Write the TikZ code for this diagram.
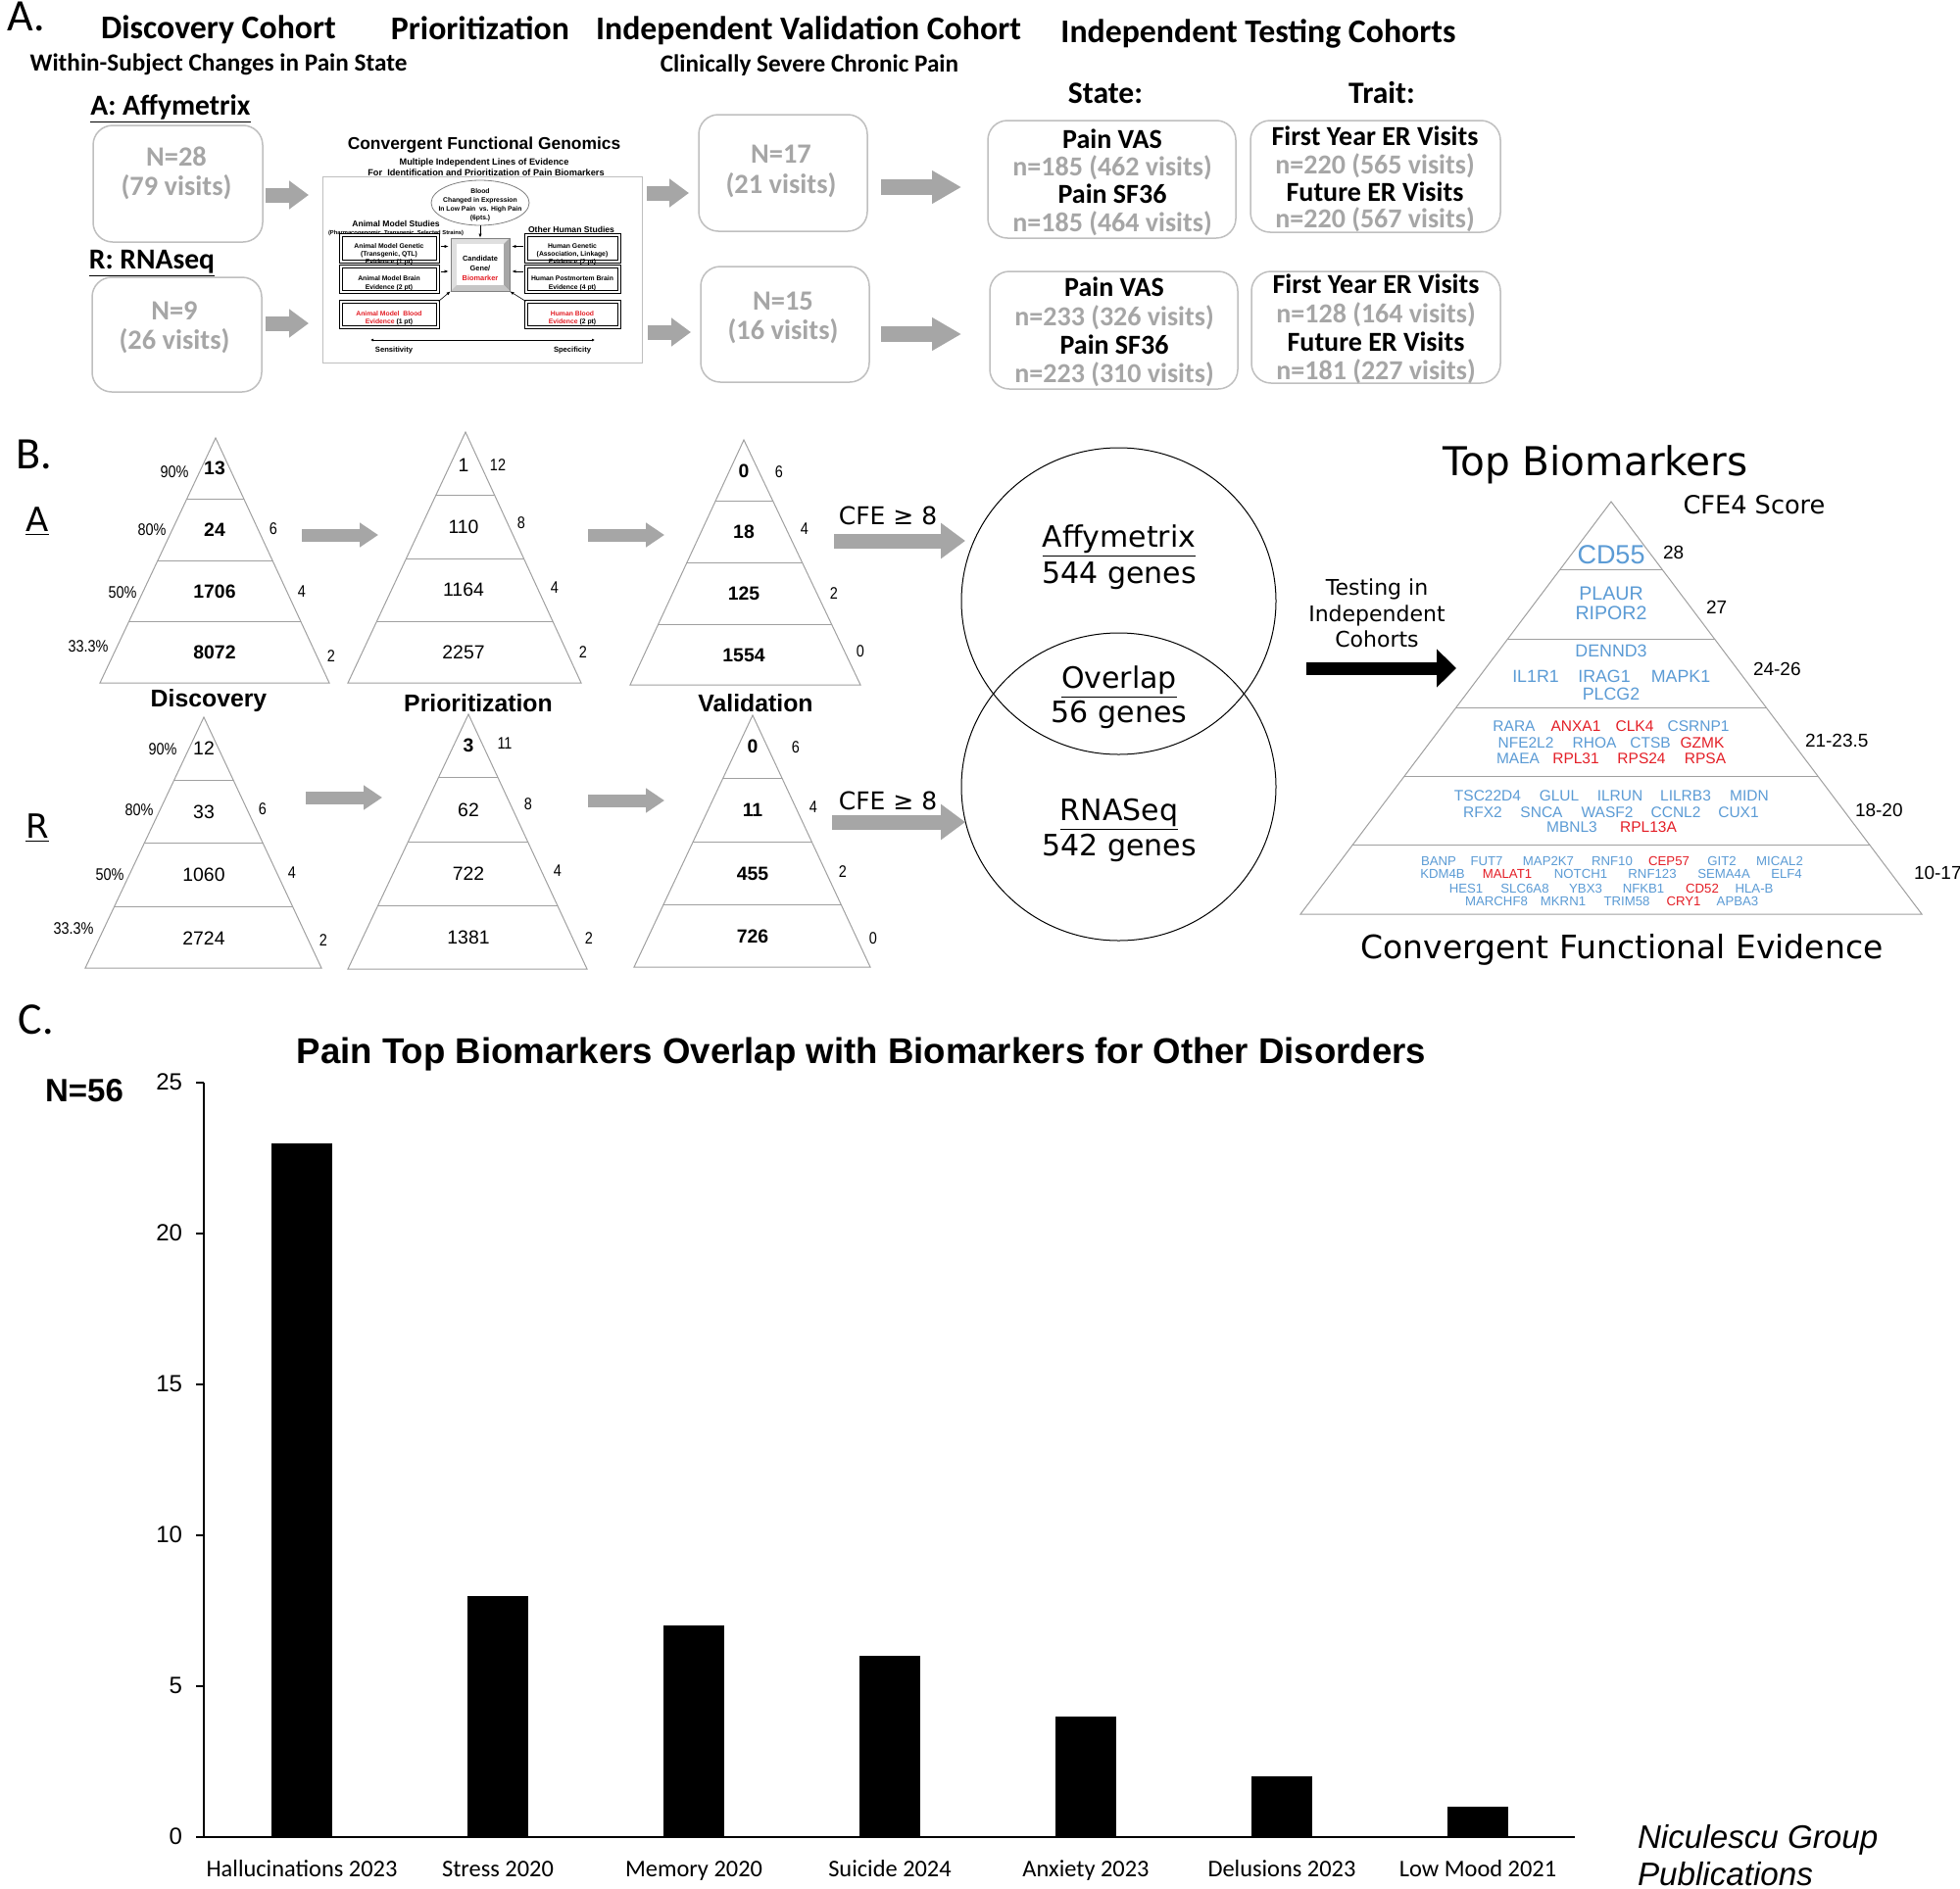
\documentclass[tikz,border=0pt]{standalone}
\usepackage{fontspec}
\setmainfont{Liberation Sans}
\newfontfamily\calib{Carlito}
\newfontfamily\dvs{DejaVu Sans}
\newfontfamily\narrowf[FakeStretch=0.85]{Liberation Sans}
\usetikzlibrary{arrows.meta,shapes.geometric,fit}
\newcommand\fz[1]{\fontsize{#1pt}{#1pt}\selectfont}
\definecolor{gtxt}{HTML}{A6A6A6}
\definecolor{gline}{HTML}{BFBFBF}
\definecolor{garr}{HTML}{A6A6A6}
\definecolor{gb}{HTML}{5B9BD5}
\definecolor{gr}{HTML}{E41E26}
\definecolor{pcol}{HTML}{A0A0A0}
\newcommand\drawpyr[6]{%
  \begin{scope}
    \clip (#1,#2) -- (#3,#5) -- (#4,#5) -- cycle;
    \foreach \yy in {#6} {\draw[pline] (0,\yy) -- (2000,\yy);}
  \end{scope}
  \draw[pline,line join=miter] (#1,#2) -- (#3,#5) -- (#4,#5) -- cycle;}
\begin{document}
\begin{tikzpicture}[x=0.5pt,y=-0.5pt,
  t/.style={inner sep=0pt,outer sep=0pt,anchor=mid},
  lbl/.style={t,font=\calib\fz{23},yshift=-3.5pt},
  head/.style={t,font=\calib\bfseries\fz{16.9},yshift=-2pt},
  subh/.style={t,font=\calib\bfseries\fz{12.6},yshift=-1pt},
  plat/.style={t,font=\calib\bfseries\fz{14.8},yshift=-2pt},
  ncount/.style={t,font=\calib\bfseries\fz{14.2},text=gtxt,yshift=-2pt},
  sthead/.style={t,font=\calib\bfseries\fz{15.8},yshift=-2pt},
  tb/.style={t,font=\calib\bfseries\fz{14},yshift=-2pt},
  tg/.style={tb,text=gtxt},
  gbox/.style={draw=gline,line width=0.75pt,rounded corners=10pt,inner sep=0pt},
  garrA/.style={draw=garr,line width=7.5pt,-{Triangle[length=10pt,width=14pt]}},
  garrB/.style={draw=garr,line width=8pt,-{Triangle[length=15pt,width=16pt]}},
  garrC/.style={draw=garr,line width=6.5pt,-{Triangle[length=9.5pt,width=12pt]}},
  garrD/.style={draw=garr,line width=7.5pt,-{Triangle[length=12.5pt,width=17.5pt]}},
  barr/.style={draw=black,line width=6.5pt,-{Triangle[length=10pt,width=19pt]}},
  cfgt/.style={t,font=\bfseries\fz{3.4}},
  sbox/.style={draw=black,line width=0.55pt,double=white,double distance=0.6pt,inner sep=0pt},
  sarr/.style={line width=0.3pt,-{Latex[length=2pt,width=1.6pt]}},
  pline/.style={draw=pcol,line width=0.5pt},
  pn/.style={t,font=\fz{9.7},yshift=-1pt},
  pnb/.style={t,font=\bfseries\fz{9.7},yshift=-1pt},
  pside/.style={t,font=\narrowf\fz{8.5}},
  plab/.style={t,font=\bfseries\fz{12.4},yshift=-1.3pt},
  cfe/.style={t,font=\dvs\fz{12.5},yshift=-2pt},
  rowlab/.style={t,font=\dvs\fz{17},yshift=-1pt},
  venn/.style={t,font=\dvs\fz{15},yshift=-2.5pt},
  dv/.style={t,font=\dvs\fz{11},yshift=-1.3pt},
  g1/.style={t,font=\fz{13.5},text=gb,yshift=-2.5pt},
  g2/.style={t,font=\fz{9.8},text=gb,yshift=-0.6pt},
  g3/.style={t,font=\fz{8.9},text=gb,yshift=-0.6pt},
  g4/.style={t,font=\fz{7.75},yshift=-0.5pt},
  g6/.style={t,font=\fz{6.6},yshift=-0.4pt},
  score/.style={t,anchor=mid west,font=\fz{9.5},yshift=-1.3pt},
  tick/.style={t,anchor=mid east,font=\fz{12},yshift=-1.3pt},
  cat/.style={t,font=\calib\fz{12.2}},
  nic/.style={t,anchor=mid west,font=\itshape\fz{16.6},yshift=-3.2pt},
]
\fill[white] (0,0) rectangle (2000,1927);
\useasboundingbox (0,0) rectangle (2000,1927);

%================ PANEL A ================
\node[lbl] (lA) at (27,19) {A.};
\node[head] (hDisc) at (223,30) {Discovery Cohort};
\node[subh] (hWithin) at (223,65) {Within-Subject Changes in Pain State};
\node[head] (hPrior) at (490,31) {Prioritization};
\node[head] (hVal) at (825,31) {Independent Validation Cohort};
\node[subh] (hClin) at (826,66) {Clinically Severe Chronic Pain};
\node[head] (hTest) at (1284,34) {Independent Testing Cohorts};
\node[sthead] (hState) at (1128,96) {State:};
\node[sthead] (hTrait) at (1410,96) {Trait:};

\node[plat] (pA) at (174,108) {\underline{A: Affymetrix}};
\node[plat] (pR) at (155,265) {\underline{R: RNAseq}};

\node[gbox,fit={(95,128)(268,247)}] (b28) {};
\node[ncount] (t28a) at (180,160) {N=28};
\node[ncount] (t28b) at (180,190) {(79 visits)};
\node[gbox,fit={(94,283)(267,400)}] (b9) {};
\node[ncount] (t9a) at (178,317) {N=9};
\node[ncount] (t9b) at (178,347) {(26 visits)};
\node[gbox,fit={(713,117)(885,236)}] (b17) {};
\node[ncount] (t17a) at (797,157) {N=17};
\node[ncount] (t17b) at (797,188) {(21 visits)};
\node[gbox,fit={(715,272)(887,390)}] (b15) {};
\node[ncount] (t15a) at (799,307) {N=15};
\node[ncount] (t15b) at (799,337) {(16 visits)};

\node[gbox,fit={(1008,123)(1261,243)}] (s1) {};
\node[tb] (s1a) at (1135,142) {Pain VAS};
\node[tg] (s1b) at (1135,170) {n=185 (462 visits)};
\node[tb] (s1c) at (1135,198) {Pain SF36};
\node[tg] (s1d) at (1135,227) {n=185 (464 visits)};
\node[gbox,fit={(1276,123)(1531,237)}] (tr1) {};
\node[tb] (tr1a) at (1403,139) {First Year ER Visits};
\node[tg] (tr1b) at (1403,168) {n=220 (565 visits)};
\node[tb] (tr1c) at (1403,196) {Future ER Visits};
\node[tg] (tr1d) at (1403,223) {n=220 (567 visits)};
\node[gbox,fit={(1010,277)(1263,397)}] (s2) {};
\node[tb] (s2a) at (1137,293) {Pain VAS};
\node[tg] (s2b) at (1137,323) {n=233 (326 visits)};
\node[tb] (s2c) at (1137,352) {Pain SF36};
\node[tg] (s2d) at (1137,381) {n=223 (310 visits)};
\node[gbox,fit={(1277,277)(1531,391)}] (tr2) {};
\node[tb] (tr2a) at (1404,290) {First Year ER Visits};
\node[tg] (tr2b) at (1404,320) {n=128 (164 visits)};
\node[tb] (tr2c) at (1404,349) {Future ER Visits};
\node[tg] (tr2d) at (1404,378) {n=181 (227 visits)};

% gray block arrows panel A
\coordinate (a1s) at (271,199); \coordinate (a1e) at (315,199);
\coordinate (a2s) at (660,197); \coordinate (a2e) at (703,197);
\coordinate (a3s) at (899,191); \coordinate (a3e) at (981,191);
\coordinate (a4s) at (271,330); \coordinate (a4e) at (315,330);
\coordinate (a5s) at (661,339); \coordinate (a5e) at (705,339);
\coordinate (a6s) at (899,341); \coordinate (a6e) at (981,341);
\draw[garrA] (a1s) -- (a1e);
\draw[garrA] (a2s) -- (a2e);
\draw[garrB] (a3s) -- (a3e);
\draw[garrA] (a4s) -- (a4e);
\draw[garrA] (a5s) -- (a5e);
\draw[garrB] (a6s) -- (a6e);

% ---- CFG inset ----
\node[t,font=\bfseries\fz{8.7}] (cfgT) at (494,147) {Convergent Functional Genomics};
\node[t,font=\bfseries\fz{4.6}] (cfgS1) at (494,163) {Multiple Independent Lines of Evidence};
\node[t,font=\bfseries\fz{4.6}] (cfgS2) at (496,174) {For\ \ Identification and Prioritization of Pain Biomarkers};
\node[draw=gline,line width=0.5pt,fit={(329,180)(655,370)},inner sep=0pt] (cfgbox) {};
\node[ellipse,draw=gray,line width=0.4pt,minimum width=50pt,minimum height=23pt,inner sep=0pt] (blood) at (490,207) {};
\node[cfgt] (bl1) at (490,192) {Blood};
\node[cfgt] (bl2) at (490,201) {Changed in Expression};
\node[cfgt] (bl3) at (490,210) {In Low Pain\ \ vs. High Pain};
\node[cfgt] (bl4) at (490,219) {(6pts.)};
\node[t,font=\bfseries\fz{4.3}] (ams) at (404,226) {Animal Model Studies};
\node[t,font=\bfseries\fz{2.9}] (amsp) at (404,234) {(Pharmacogenomic, Transgenic, Selected Strains)};
\node[t,font=\bfseries\fz{4.3}] (ohs) at (583,232) {Other Human Studies};
\node[sbox,fit={(348,240)(447,267)}] (lb1) {};
\node[sbox,fit={(348,272)(447,298)}] (lb2) {};
\node[sbox,fit={(348,308)(447,334)}] (lb3) {};
\node[sbox,fit={(537,240)(632,267)}] (rb1) {};
\node[sbox,fit={(537,272)(632,298)}] (rb2) {};
\node[sbox,fit={(537,308)(632,334)}] (rb3) {};
\node[cfgt] (lb1a) at (397,248) {Animal Model Genetic};
\node[cfgt] (lb1b) at (397,256) {(Transgenic, QTL)};
\node[cfgt] (lb1c) at (397,264) {Evidence (1 pt)};
\node[cfgt] (lb2a) at (397,281) {Animal Model Brain};
\node[cfgt] (lb2b) at (397,290) {Evidence (2 pt)};
\node[cfgt,text=gr] (lb3a) at (397,317) {Animal Model\ \ Blood};
\node[cfgt,text=gr] (lb3b) at (397,325) {Evidence {\color{black}(1 pt)}};
\node[cfgt] (rb1a) at (584,248) {Human Genetic};
\node[cfgt] (rb1b) at (584,256) {(Association, Linkage)};
\node[cfgt] (rb1c) at (584,264) {Evidence (2 pt)};
\node[cfgt] (rb2a) at (584,281) {Human Postmortem Brain};
\node[cfgt] (rb2b) at (584,290) {Evidence (4 pt)};
\node[cfgt,text=gr] (rb3a) at (584,317) {Human Blood};
\node[cfgt,text=gr] (rb3b) at (584,325) {Evidence {\color{black}(2 pt)}};
% candidate bevel box
\node[inner sep=0pt,fit={(460,243)(520,297)}] (cand) {};
\fill[gray!25] (460,243) rectangle (520,297);
\fill[gray!70] (520,243) -- (520,297) -- (514,291) -- (514,249) -- cycle;
\fill[gray!45] (460,297) -- (520,297) -- (514,291) -- (466,291) -- cycle;
\fill[white] (466,249) rectangle (514,291);
\draw[gray,line width=0.2pt] (460,243) rectangle (520,297);
\node[t,font=\bfseries\fz{3.7}] (cand1) at (490,261) {Candidate};
\node[t,font=\bfseries\fz{3.7}] (cand2) at (490,271) {Gene/};
\node[t,font=\bfseries\fz{3.7},text=gr] (cand3) at (490,281) {Biomarker};
\draw[sarr] (blood.south) -- (cand.north);
\draw[sarr,shorten <=1pt,shorten >=1pt] ([yshift=1pt]lb1.east) -- ([yshift=1pt]lb1.east -| cand.west);
\draw[sarr,shorten <=1pt,shorten >=1pt] ([yshift=4pt]lb2.east) -- ([yshift=4pt]lb2.east -| cand.west);
\draw[sarr,shorten <=1pt,shorten >=1pt] ([yshift=1pt]rb1.west) -- ([yshift=1pt]rb1.west -| cand.east);
\draw[sarr,shorten <=1pt,shorten >=1pt] ([yshift=4pt]rb2.west) -- ([yshift=4pt]rb2.west -| cand.east);
\draw[sarr] (lb3.north east) -- (cand.south west);
\draw[sarr] (rb3.north west) -- (cand.south east);
\coordinate (sensL) at (378,347); \coordinate (sensR) at (607,347);
\draw[line width=0.4pt,{Latex[length=1.5pt,width=1.5pt]}-{Latex[length=1.5pt,width=1.5pt]}] (sensL) -- (sensR);
\node[t,font=\bfseries\fz{3.8}] (sens) at (402,354) {Sensitivity};
\node[t,font=\bfseries\fz{3.8}] (spec) at (584,354) {Specificity};

%================ PANEL B ================
\node[lbl] (lB) at (35,466) {B.};
\node[rowlab] (rowA) at (38,535) {\underline{A}};
\node[rowlab] (rowR) at (38,848) {\underline{R}};

\drawpyr{220}{447}{102}{336}{697}{509,572,634}
\drawpyr{475}{441}{355}{593}{697}{505,570,634}
\drawpyr{759}{449}{643}{878}{699}{511,574,637}
\drawpyr{208}{732}{87}{328}{988}{796,860,925}
\drawpyr{478}{729}{355}{599}{989}{793,859,924}
\drawpyr{768}{730}{647}{888}{987}{794,859,923}

\foreach \v/\x/\y [count=\i] in {13/219/477,24/219/540,1706/219/603,8072/219/665}
  \node[pnb] (a1n\i) at (\x,\y) {\v};
\foreach \v/\x/\y [count=\i] in {90\%/178/482,80\%/155/541,50\%/125/605,33.3\%/90/660,6/279/540,4/308/604,2/338/670}
  \node[pside] (a1s\i) at (\x,\y) {\v};
\foreach \v/\x/\y [count=\i] in {1/473/474,110/473/537,1164/473/601,2257/473/665}
  \node[pn] (a2n\i) at (\x,\y) {\v};
\foreach \v/\x/\y [count=\i] in {12/508/475,8/532/534,4/566/600,2/595/666}
  \node[pside] (a2s\i) at (\x,\y) {\v};
\foreach \v/\x/\y [count=\i] in {0/759/480,18/759/542,125/759/605,1554/759/668}
  \node[pnb] (a3n\i) at (\x,\y) {\v};
\foreach \v/\x/\y [count=\i] in {6/795/482,4/821/540,2/851/606,0/878/665}
  \node[pside] (a3s\i) at (\x,\y) {\v};
\foreach \v/\x/\y [count=\i] in {12/208/763,33/208/828,1060/208/892,2724/208/957}
  \node[pn] (r1n\i) at (\x,\y) {\v};
\foreach \v/\x/\y [count=\i] in {90\%/166/765,80\%/142/827,50\%/112/893,33.3\%/75/948,6/268/826,4/298/891,2/330/960}
  \node[pside] (r1s\i) at (\x,\y) {\v};
\node[pnb] (r2n1) at (478,760) {3};
\foreach \v/\x/\y [count=\i] in {62/478/826,722/478/891,1381/478/956}
  \node[pn] (r2n\i x) at (\x,\y) {\v};
\foreach \v/\x/\y [count=\i] in {11/515/759,8/539/821,4/569/889,2/601/958}
  \node[pside] (r2s\i) at (\x,\y) {\v};
\foreach \v/\x/\y [count=\i] in {0/768/761,11/768/826,455/768/891,726/768/955}
  \node[pnb] (r3n\i) at (\x,\y) {\v};
\foreach \v/\x/\y [count=\i] in {6/812/763,4/830/824,2/860/890,0/891/958}
  \node[pside] (r3s\i) at (\x,\y) {\v};

\node[plab] (labDisc) at (213,714) {Discovery};
\node[plab] (labPrio) at (488,719) {Prioritization};
\node[plab] (labVal) at (771,719) {Validation};

\coordinate (b1s) at (308,546); \coordinate (b1e) at (386,546);
\coordinate (b2s) at (600,546); \coordinate (b2e) at (678,546);
\coordinate (b3s) at (312,814); \coordinate (b3e) at (390,814);
\coordinate (b4s) at (600,817); \coordinate (b4e) at (678,817);
\coordinate (c1s) at (851,552); \coordinate (c1e) at (985,552);
\coordinate (c2s) at (849,839); \coordinate (c2e) at (985,839);
\draw[garrC] (b1s) -- (b1e);
\draw[garrC] (b2s) -- (b2e);
\draw[garrC] (b3s) -- (b3e);
\draw[garrC] (b4s) -- (b4e);
\draw[garrD] (c1s) -- (c1e);
\draw[garrD] (c2s) -- (c2e);
\node[cfe] (cfeA) at (906,526) {CFE ≥ 8};
\node[cfe] (cfeR) at (906,817) {CFE ≥ 8};

% Venn
\node[ellipse,draw=black,line width=0.5pt,minimum width=160.5pt,minimum height=156.5pt,inner sep=0pt] (vA) at (1141.5,613.5) {};
\node[ellipse,draw=black,line width=0.5pt,minimum width=160.5pt,minimum height=157pt,inner sep=0pt] (vR) at (1141.5,803) {};
\node[venn] (vA1) at (1142,548) {\underline{Affymetrix}};
\node[venn] (vA2) at (1142,585) {544 genes};
\node[venn] (vO1) at (1142,692) {\underline{Overlap}};
\node[venn] (vO2) at (1142,727) {56 genes};
\node[venn] (vR1) at (1142,827) {\underline{RNASeq}};
\node[venn] (vR2) at (1142,863) {542 genes};

% Top biomarkers
\node[t,font=\dvs\fz{20.3},yshift=-4.5pt] (topB) at (1628,471) {Top Biomarkers};
\node[t,font=\dvs\fz{12.8},yshift=-2pt] (cfe4) at (1790,515) {CFE4 Score};
\node[dv] (test1) at (1405,600) {Testing in};
\node[dv] (test2) at (1405,627) {Independent};
\node[dv] (test3) at (1405,653) {Cohorts};
\coordinate (k1s) at (1333,682); \coordinate (k1e) at (1486,682);
\draw[barr] (k1s) -- (k1e);

\drawpyr{1644}{512}{1327}{1961}{933}{581,652,722,792,862}

\node[g1] (g-CD55) at (1644,565) {CD55};
\node[g2] (g-PLAUR) at (1644,606) {PLAUR};
\node[g2] (g-RIPOR2) at (1644,626) {RIPOR2};
\node[g3] (g-DENND3) at (1644,664) {DENND3};
\foreach \g/\x in {IL1R1/1567,IRAG1/1637,MAPK1/1715}
  \node[g3] (g-\g) at (\x,690) {\g};
\node[g3] (g-PLCG2) at (1644,708) {PLCG2};
\foreach \g/\x/\c in {RARA/1545/gb,ANXA1/1608/gr,CLK4/1668/gr,CSRNP1/1733/gb}
  \node[g4,text=\c] (g-\g) at (\x,740) {\g};
\foreach \g/\x/\c in {NFE2L2/1557/gb,RHOA/1627/gb,CTSB/1684/gb,GZMK/1737/gr}
  \node[g4,text=\c] (g-\g) at (\x,757) {\g};
\foreach \g/\x/\c in {MAEA/1549/gb,RPL31/1608/gr,RPS24/1675/gr,RPSA/1740/gr}
  \node[g4,text=\c] (g-\g) at (\x,773) {\g};
\foreach \g/\x/\c in {TSC22D4/1518/gb,GLUL/1591/gb,ILRUN/1653/gb,LILRB3/1720/gb,MIDN/1785/gb}
  \node[g4,text=\c] (g-\g) at (\x,811) {\g};
\foreach \g/\x/\c in {RFX2/1513/gb,SNCA/1573/gb,WASF2/1640/gb,CCNL2/1710/gb,CUX1/1774/gb}
  \node[g4,text=\c] (g-\g) at (\x,828) {\g};
\foreach \g/\x/\c in {MBNL3/1604/gb,RPL13A/1682/gr}
  \node[g4,text=\c] (g-\g) at (\x,843) {\g};
\foreach \g/\x/\c in {BANP/1468/gb,FUT7/1517/gb,MAP2K7/1580/gb,RNF10/1645/gb,CEP57/1703/gr,GIT2/1757/gb,MICAL2/1816/gb}
  \node[g6,text=\c] (g-\g) at (\x,877) {\g};
\foreach \g/\x/\c in {KDM4B/1472/gb,MALAT1/1538/gr,NOTCH1/1613/gb,RNF123/1686/gb,SEMA4A/1759/gb,ELF4/1823/gb}
  \node[g6,text=\c] (g-\g) at (\x,890) {\g};
\foreach \g/\x/\c in {HES1/1496/gb,SLC6A8/1556/gb,YBX3/1618/gb,NFKB1/1677/gb,CD52/1737/gr,HLA-B/1790/gb}
  \node[g6,text=\c] (g-\g) at (\x,905) {\g};
\foreach \g/\x/\c in {MARCHF8/1527/gb,MKRN1/1595/gb,TRIM58/1660/gb,CRY1/1718/gr,APBA3/1773/gb}
  \node[g6,text=\c] (g-\g) at (\x,918) {\g};

\node[score] (sc1) at (1697,563) {28};
\node[score] (sc2) at (1741,619) {27};
\node[score] (sc3) at (1789,682) {24-26};
\node[score] (sc4) at (1842,755) {21-23.5};
\node[score] (sc5) at (1893,826) {18-20};
\node[score] (sc6) at (1953,890) {10-17};
\node[t,font=\dvs\fz{16.5},yshift=-3.2pt] (cfeTitle) at (1655,967) {Convergent Functional Evidence};

%================ PANEL C ================
\node[lbl] (lC) at (37,1043) {C.};
\node[t,font=\bfseries\fz{18.3},yshift=-3.2pt] (cTitle) at (879,1074) {Pain Top Biomarkers Overlap with Biomarkers for Other Disorders};
\node[t,font=\bfseries\fz{16.5},yshift=-3.2pt] (n56) at (86,1113) {N=56};
\coordinate (origin) at (208,1875);
\coordinate (ytop) at (208,1105);
\coordinate (xend) at (1607,1875);
\draw[line width=0.6pt] (ytop) -- (origin) -- (xend);
\foreach \v [count=\i] in {0,5,10,15,20,25} {
  \draw[line width=0.6pt] (200,1875-30.8*\v) -- (208,1875-30.8*\v);
  \node[tick] (yt\i) at (186,1875-30.8*\v) {\v};
}
\foreach \v/\lab [count=\i from 0] in {23/Hallucinations 2023,8/Stress 2020,7/Memory 2020,6/Suicide 2024,4/Anxiety 2023,2/Delusions 2023,1/Low Mood 2021} {
  \fill[black] (308+200*\i-31,1875) rectangle (308+200*\i+31,1875-30.8*\v);
  \node[cat] (cat\i) at (308+200*\i,1910) {\lab};
}
\node[nic] (nic1) at (1671,1875) {Niculescu Group};
\node[nic] (nic2) at (1671,1913) {Publications};
\end{tikzpicture}
\end{document}
